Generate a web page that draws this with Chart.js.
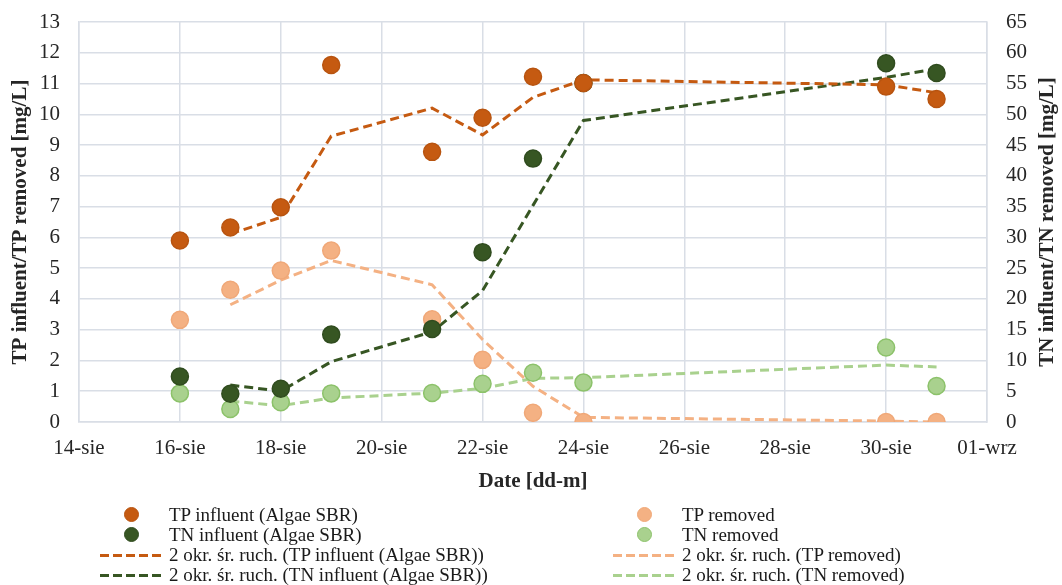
<!DOCTYPE html>
<html>
<head>
<meta charset="utf-8">
<script src="https://cdn.jsdelivr.net/npm/chart.js@4"></script>
<style>
  body { margin: 0; background: #fff; }
  #wrap { position: relative; width: 1062px; height: 585px; }
  #legend { position: absolute; left: 0; top: 505px; width: 1062px; font-family: "Liberation Serif", serif; font-size: 19px; color: #1a1a1a; }
  .item { position: absolute; height: 20px; line-height: 20px; white-space: nowrap; }
  .mark { position: absolute; top: 0; width: 64px; height: 20px; }
  .dot { position: absolute; width: 15px; height: 15px; border-radius: 50%; top: 2px; left: 24px; box-sizing: border-box; }
  .dash { position: absolute; top: 9px; left: 0; width: 64px; height: 3px; }
  .txt { position: absolute; left: 69px; top: 0; }
</style>
</head>
<body>
<div id="wrap">
  <canvas id="chart" width="1062" height="585"></canvas>
  <div id="legend"></div>
</div>
<script>
// days of August (32 = 1 September)
const days = [16, 17, 18, 19, 21, 22, 23, 24, 30, 31];
const maDays = days.slice(1);

// left axis [mg/L]
const tpInfluent = [5.9, 6.32, 6.98, 11.6, 8.78, 9.89, 11.22, 11.02, 10.9, 10.5];
const tpRemoved = [3.32, 4.3, 4.92, 5.57, 3.34, 2.02, 0.3, 0.0, 0.0, 0.0];
// right axis [mg/L]
const tnInfluent = [7.4, 4.6, 5.4, 14.2, 15.1, 27.6, 42.8, 55.1, 58.3, 56.7];
const tnRemoved = [4.65, 2.1, 3.2, 4.65, 4.7, 6.2, 8.0, 6.4, 12.1, 5.85];

// 2-period moving average trendlines
const tpInfluentMA = [6.11, 6.65, 9.29, 10.2, 9.33, 10.55, 11.12, 10.96, 10.7];
const tnInfluentMA = [6.0, 5.0, 9.8, 14.65, 21.35, 35.2, 49.0, 56.0, 57.4];
const tpRemovedMA = [3.81, 4.61, 5.25, 4.46, 2.68, 1.16, 0.15, 0.03, 0.0];
const tnRemovedMA = [3.4, 2.65, 3.9, 4.7, 5.45, 7.1, 7.2, 9.25, 8.95];

const xTickDays = [14, 16, 18, 20, 22, 24, 26, 28, 30, 32];
const xTickLabels = ['14-sie', '16-sie', '18-sie', '20-sie', '22-sie', '24-sie', '26-sie', '28-sie', '30-sie', '01-wrz'];
const rightTitle = 'TN influent/TN removed [mg/L]';

const C_TPI = '#C55A11', C_TNI = '#375623', C_TPR = '#F4B183', C_TNR = '#A9D18E';
const FONT = 'Liberation Serif';
const GRID = '#D9DEE6';

function pts(xs, ys) {
  return xs.map((x, i) => ({x: x, y: ys[i]}));
}

function dotSet(label, data, axis, fill, border) {
  return {
    type: 'scatter', label: label, data: pts(days, data), yAxisID: axis,
    backgroundColor: fill, borderColor: border, borderWidth: 1.5,
    pointRadius: 8.5, pointHoverRadius: 8.5, showLine: false, order: 1
  };
}

function maSet(label, data, axis, color) {
  return {
    type: 'line', label: label, data: pts(maDays, data), yAxisID: axis,
    borderColor: color, borderWidth: 3, borderDash: [9, 5],
    pointRadius: 0, fill: false, tension: 0, order: 2
  };
}

const datasets = [
  dotSet('TP influent (Algae SBR)', tpInfluent, 'y', C_TPI, '#B85410'),
  dotSet('TN influent (Algae SBR)', tnInfluent, 'y2', C_TNI, '#304C1F'),
  dotSet('TP removed', tpRemoved, 'y', C_TPR, '#F0A878'),
  dotSet('TN removed', tnRemoved, 'y2', C_TNR, '#8CC26A'),
  maSet('2 okr. śr. ruch. (TP influent (Algae SBR))', tpInfluentMA, 'y', C_TPI),
  maSet('2 okr. śr. ruch. (TN influent (Algae SBR))', tnInfluentMA, 'y2', C_TNI),
  maSet('2 okr. śr. ruch. (TP removed)', tpRemovedMA, 'y', C_TPR),
  maSet('2 okr. śr. ruch. (TN removed)', tnRemovedMA, 'y2', C_TNR)
];

const tickFont = {family: FONT, size: 21};
const titleFont = {family: FONT, size: 21, weight: 'bold'};

// Excel writes the right axis title bottom-to-top, Chart.js would turn it the other way
const rightTitlePlugin = {
  id: 'rightTitle',
  afterDraw(chart) {
    const {ctx, chartArea} = chart;
    ctx.save();
    ctx.translate(1048, (chartArea.top + chartArea.bottom) / 2);
    ctx.rotate(-Math.PI / 2);
    ctx.textAlign = 'center';
    ctx.textBaseline = 'middle';
    ctx.fillStyle = '#262626';
    ctx.font = `bold 21px "${FONT}"`;
    ctx.fillText(rightTitle, 0, 0);
    ctx.restore();
  }
};

// fixed box sizes so the plot area sits where the original one is
function fitY(width) {
  return axis => {
    axis.width = width;
    axis.paddingTop = 22;
    axis.paddingBottom = 0;
  };
}

new Chart(document.getElementById('chart'), {
  data: {datasets: datasets},
  plugins: [rightTitlePlugin],
  options: {
    responsive: false,
    animation: false,
    layout: {padding: {top: 0, bottom: 91, left: 0, right: 0}},
    plugins: {legend: {display: false}, tooltip: {enabled: false}},
    scales: {
      x: {
        type: 'linear', min: 14, max: 32,
        afterBuildTicks: axis => { axis.ticks = xTickDays.map(v => ({value: v})); },
        afterFit: axis => { axis.height = 72; },
        ticks: {
          font: tickFont, color: '#262626', padding: 14, maxRotation: 0,
          callback: v => xTickLabels[xTickDays.indexOf(v)]
        },
        grid: {color: GRID, lineWidth: 1.5, drawTicks: false},
        border: {color: GRID, width: 1.5},
        title: {display: true, text: 'Date [dd-m]', font: titleFont, color: '#262626', padding: {top: 0, bottom: 0}}
      },
      y: {
        position: 'left', min: 0, max: 13,
        afterFit: fitY(79),
        ticks: {stepSize: 1, font: tickFont, color: '#262626', padding: 19},
        grid: {color: GRID, lineWidth: 1.5, drawTicks: false},
        border: {color: GRID, width: 1.5},
        title: {display: true, text: 'TP influent/TP removed [mg/L]', font: titleFont, color: '#262626', padding: {top: 8, bottom: 0}}
      },
      y2: {
        position: 'right', min: 0, max: 65,
        afterFit: fitY(75),
        ticks: {stepSize: 5, font: tickFont, color: '#262626', padding: 19},
        grid: {display: false, drawTicks: false},
        border: {color: GRID, width: 1.5},
        title: {display: false}
      }
    }
  }
});

// legend laid out in two columns like the original
const legendPos = [
  [0, 0], [0, 1], [1, 0], [1, 1], [0, 2], [0, 3], [1, 2], [1, 3]
];
const colLeft = [100, 613];
const legend = document.getElementById('legend');
datasets.forEach((ds, i) => {
  const [col, row] = legendPos[i];
  const item = document.createElement('div');
  item.className = 'item';
  item.style.left = colLeft[col] + 'px';
  item.style.top = (row * 20) + 'px';
  const mark = document.createElement('span');
  mark.className = 'mark';
  const m = document.createElement('span');
  if (ds.type === 'scatter') {
    m.className = 'dot';
    m.style.background = ds.backgroundColor;
    m.style.border = '1.5px solid ' + ds.borderColor;
  } else {
    m.className = 'dash';
    m.style.background = `repeating-linear-gradient(to right, ${ds.borderColor} 0 9px, transparent 9px 13px)`;
  }
  mark.appendChild(m);
  const txt = document.createElement('span');
  txt.className = 'txt';
  txt.textContent = ds.label;
  item.appendChild(mark);
  item.appendChild(txt);
  legend.appendChild(item);
});
</script>
</body>
</html>
